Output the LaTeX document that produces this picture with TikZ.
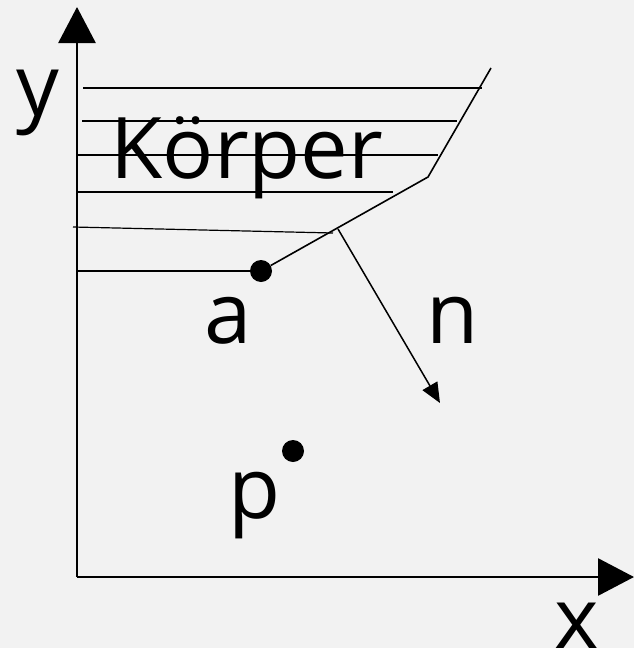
\documentclass[tikz,border=0pt]{standalone}
\usepackage{fontspec}
\setmainfont{Open Sans}
\usetikzlibrary{arrows.meta}
\definecolor{hgrund}{HTML}{F2F2F2}
\tikzset{
  punkt/.style={circle, fill=black, inner sep=0pt, minimum size=22pt},
  beschr/.style={font=\fontsize{85}{85}\selectfont, anchor=base, inner sep=0pt},
  achse/.style={line width=2.8pt, -{Triangle[length=36pt,width=37pt]}},
}
\begin{document}
\begin{tikzpicture}[x=1pt, y=-1pt]
  \fill[hgrund] (0,0) rectangle (634,648);
  \useasboundingbox (0,0) rectangle (634,648);
  % Schraffur des Körpers
  \foreach \ya/\xa/\yb/\xb in {88/83/88/482, 121/82/121/457, 155/77/155/438, 192/77/192/393, 227/73/233/333, 271/77/271/261}
    \draw[line width=1.2pt] (\xa,\ya) -- (\xb,\yb);
  \coordinate (O) at (77,577);
  \coordinate (yende) at (77,7);
  \coordinate (xende) at (634,577);
  \draw[achse] (O) -- (yende);
  \draw[achse] (O) -- (xende);
  \node[beschr] (ylabel) at (38,115) {y};
  \node[beschr] (xlabel) at (577,648) {x};
  \node[beschr] (koerper) at (247,178) {Körper};
  % Rand des Körpers
  \node[punkt] (a) at (261,271) {};
  \node[punkt] (p) at (293,451) {};
  \coordinate (rand) at (491,68);
  \coordinate (knick) at (428,177);
  \draw[line width=1.6pt] (rand) -- (knick) -- (a);
  \coordinate (fuss) at (338,229);
  \coordinate (nspitze) at (440,403);
  \draw[line width=1.5pt, -{Triangle[length=20pt,width=17pt]}] (fuss) -- (nspitze);
  \node[beschr] (alabel) at (228,343) {a};
  \node[beschr] (nlabel) at (453,343) {n};
  \node[beschr] (plabel) at (255,518) {p};
\end{tikzpicture}
\end{document}
